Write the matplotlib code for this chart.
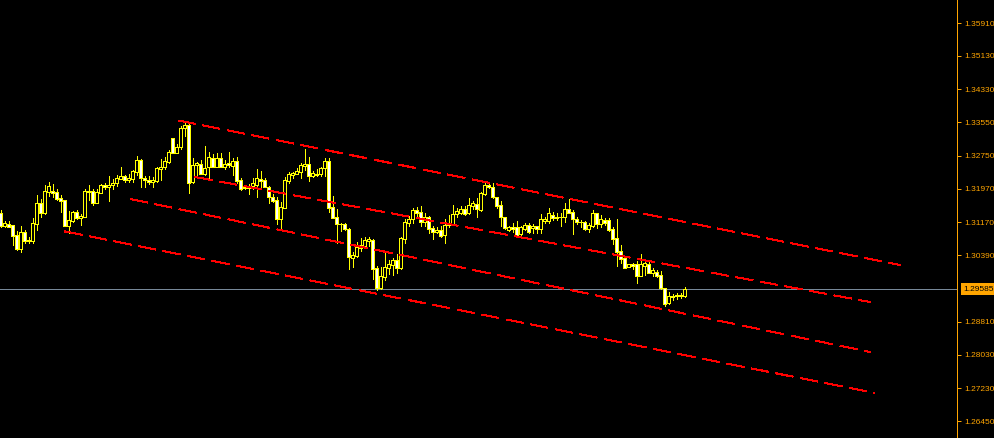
import matplotlib
matplotlib.use("Agg")
import matplotlib.pyplot as plt
import matplotlib.transforms as mtransforms
import numpy as np

# ---------------- data ----------------
opens = [
    1.31401, 1.31085, 1.31133, 1.31102, 1.30871, 1.30545, 1.30942, 1.30728, 1.30736, 1.31133,
    1.31632, 1.31401, 1.31900, 1.31917, 1.31893, 1.31751, 1.31703, 1.31085, 1.31211, 1.31418,
    1.31282, 1.31292, 1.31924, 1.31910, 1.31639, 1.31877, 1.32067, 1.32005, 1.32053, 1.32115,
    1.32202, 1.32266, 1.32178, 1.32209, 1.32376, 1.32654, 1.32219, 1.32178, 1.32138, 1.32155,
    1.32440, 1.32480, 1.32614, 1.33170, 1.32827, 1.32956, 1.33407, 1.33486, 1.32138, 1.32528,
    1.32551, 1.32328, 1.32480, 1.32694, 1.32480, 1.32694, 1.32496, 1.32575, 1.32519, 1.32630,
    1.32178, 1.31981, 1.31996, 1.32036, 1.32060, 1.32195, 1.32178, 1.32019, 1.31767, 1.31703,
    1.31251, 1.31520, 1.32162, 1.32305, 1.32321, 1.32376, 1.32519, 1.32559, 1.32281, 1.32314,
    1.32314, 1.32456, 1.32637, 1.31529, 1.31292, 1.31140, 1.31133, 1.31007, 1.30332, 1.30379,
    1.30569, 1.30617, 1.30736, 1.30752, 1.30094, 1.29618, 1.29880, 1.30080, 1.30158, 1.30277,
    1.30094, 1.30776, 1.31149, 1.31251, 1.31465, 1.31425, 1.31180, 1.31306, 1.31030, 1.30935,
    1.30990, 1.30871, 1.31102, 1.31125, 1.31363, 1.31387, 1.31496, 1.31401, 1.31568, 1.31608,
    1.31465, 1.31846, 1.32060, 1.32019, 1.31767, 1.31584, 1.31292, 1.30990, 1.31069, 1.31054,
    1.30895, 1.31007, 1.31109, 1.31030, 1.31085, 1.31007, 1.31211, 1.31204, 1.31346, 1.31275,
    1.31306, 1.31292, 1.31482, 1.31411, 1.31251, 1.31173, 1.31173, 1.31014, 1.31093, 1.31387,
    1.31133, 1.31228, 1.31228, 1.31014, 1.30793, 1.30491, 1.30332, 1.30103, 1.30182, 1.30175,
    1.29904, 1.30142, 1.30182, 1.29975, 1.29984, 1.29920, 1.29604, 1.29248, 1.29404, 1.29421,
    1.29428, 1.29421,
]
highs = [
    1.31465, 1.31204, 1.31204, 1.31109, 1.30966, 1.31085, 1.30990, 1.30824, 1.31275, 1.31822,
    1.31727, 1.32060, 1.32131, 1.32084, 1.31965, 1.31822, 1.31703, 1.31442, 1.31442, 1.31465,
    1.31370, 1.31965, 1.32060, 1.31965, 1.31972, 1.32091, 1.32115, 1.32266, 1.32202, 1.32297,
    1.32480, 1.32297, 1.32314, 1.32416, 1.32749, 1.32670, 1.32281, 1.32273, 1.32257, 1.32480,
    1.32670, 1.32733, 1.32892, 1.33170, 1.33027, 1.33462, 1.33526, 1.33526, 1.32694, 1.32599,
    1.32654, 1.32987, 1.32851, 1.32796, 1.32827, 1.32813, 1.32654, 1.32851, 1.32694, 1.32733,
    1.32219, 1.32060, 1.32077, 1.32219, 1.32440, 1.32392, 1.32233, 1.32036, 1.31846, 1.31767,
    1.31663, 1.32257, 1.32376, 1.32361, 1.32456, 1.32590, 1.32915, 1.32733, 1.32392, 1.32432,
    1.32496, 1.32694, 1.32694, 1.31798, 1.31489, 1.31164, 1.31164, 1.31045, 1.30467, 1.30705,
    1.30793, 1.30816, 1.30831, 1.30769, 1.30134, 1.30118, 1.30491, 1.30277, 1.30324, 1.30420,
    1.30831, 1.31244, 1.31323, 1.31506, 1.31529, 1.31561, 1.31387, 1.31323, 1.31085, 1.31069,
    1.31085, 1.31251, 1.31346, 1.31584, 1.31520, 1.31561, 1.31561, 1.31743, 1.31686, 1.31743,
    1.31886, 1.32115, 1.32100, 1.32115, 1.31782, 1.31686, 1.31292, 1.31085, 1.31149, 1.31204,
    1.31085, 1.31164, 1.31149, 1.31133, 1.31085, 1.31370, 1.31306, 1.31520, 1.31425, 1.31387,
    1.31401, 1.31624, 1.31727, 1.31465, 1.31292, 1.31228, 1.31204, 1.31149, 1.31465, 1.31387,
    1.31346, 1.31268, 1.31268, 1.31069, 1.31251, 1.30633, 1.30356, 1.30175, 1.30213, 1.30253,
    1.30412, 1.30253, 1.30277, 1.30094, 1.30032, 1.30016, 1.29604, 1.29523, 1.29461, 1.29485,
    1.29485, 1.29642,
]
lows = [
    1.31061, 1.31061, 1.31061, 1.30641, 1.30515, 1.30474, 1.30681, 1.30681, 1.30681, 1.30990,
    1.31306, 1.31370, 1.31805, 1.31782, 1.31703, 1.31418, 1.31085, 1.30926, 1.31180, 1.31259,
    1.31117, 1.31292, 1.31703, 1.31584, 1.31639, 1.31862, 1.31972, 1.31686, 1.31958, 1.32036,
    1.32202, 1.32131, 1.32138, 1.32138, 1.32297, 1.32019, 1.32019, 1.32084, 1.32019, 1.32138,
    1.32178, 1.32440, 1.32575, 1.32827, 1.32827, 1.32908, 1.33224, 1.31877, 1.32115, 1.32297,
    1.32314, 1.32297, 1.32233, 1.32480, 1.32480, 1.32480, 1.32440, 1.32480, 1.32297, 1.32100,
    1.31941, 1.31958, 1.31846, 1.31958, 1.31782, 1.32019, 1.32005, 1.31639, 1.31663, 1.31140,
    1.30990, 1.31506, 1.32115, 1.32233, 1.32314, 1.32233, 1.32416, 1.32162, 1.32257, 1.32281,
    1.32273, 1.32281, 1.31425, 1.31268, 1.30674, 1.30974, 1.30990, 1.30070, 1.30103, 1.30341,
    1.30498, 1.30593, 1.30617, 1.29818, 1.29564, 1.29580, 1.29801, 1.29944, 1.29920, 1.29960,
    1.30056, 1.30674, 1.31085, 1.31164, 1.31306, 1.31093, 1.31085, 1.30911, 1.30784, 1.30911,
    1.30831, 1.30688, 1.31069, 1.31102, 1.31306, 1.31370, 1.31346, 1.31363, 1.31482, 1.31306,
    1.31449, 1.31822, 1.31981, 1.31743, 1.31506, 1.31085, 1.31014, 1.30966, 1.30950, 1.30847,
    1.30831, 1.30990, 1.30926, 1.30926, 1.30911, 1.30911, 1.31149, 1.31149, 1.31228, 1.31228,
    1.31093, 1.31188, 1.31387, 1.30887, 1.31125, 1.31069, 1.30990, 1.30935, 1.31069, 1.31045,
    1.31054, 1.31109, 1.30966, 1.30650, 1.30134, 1.30198, 1.30094, 1.30103, 1.30063, 1.29737,
    1.29904, 1.29920, 1.29960, 1.29904, 1.29873, 1.29588, 1.29183, 1.29231, 1.29326, 1.29343,
    1.29366, 1.29404,
]
closes = [
    1.31085, 1.31149, 1.31068, 1.30847, 1.30538, 1.30942, 1.30736, 1.30759, 1.31156, 1.31632,
    1.31401, 1.31917, 1.32036, 1.31869, 1.31734, 1.31686, 1.31085, 1.31228, 1.31418, 1.31275,
    1.31330, 1.31910, 1.31893, 1.31639, 1.31886, 1.32067, 1.32005, 1.32067, 1.32108, 1.32233,
    1.32266, 1.32171, 1.32226, 1.32385, 1.32654, 1.32219, 1.32178, 1.32138, 1.32178, 1.32456,
    1.32480, 1.32623, 1.32837, 1.32827, 1.32956, 1.33407, 1.33486, 1.32115, 1.32535, 1.32575,
    1.32328, 1.32456, 1.32718, 1.32480, 1.32694, 1.32496, 1.32559, 1.32535, 1.32637, 1.32162,
    1.31965, 1.32019, 1.32036, 1.32100, 1.32219, 1.32155, 1.32019, 1.31767, 1.31686, 1.31244,
    1.31544, 1.32178, 1.32321, 1.32338, 1.32392, 1.32535, 1.32559, 1.32281, 1.32338, 1.32297,
    1.32456, 1.32630, 1.31506, 1.31282, 1.31125, 1.31125, 1.31007, 1.30341, 1.30403, 1.30593,
    1.30633, 1.30752, 1.30784, 1.30070, 1.29618, 1.29896, 1.30103, 1.30182, 1.30277, 1.30080,
    1.30793, 1.31180, 1.31244, 1.31465, 1.31401, 1.31173, 1.31292, 1.31021, 1.30950, 1.30990,
    1.30855, 1.31117, 1.31164, 1.31370, 1.31442, 1.31482, 1.31370, 1.31584, 1.31624, 1.31482,
    1.31862, 1.32060, 1.32005, 1.31782, 1.31561, 1.31292, 1.31030, 1.31054, 1.31007, 1.30871,
    1.31054, 1.31109, 1.30935, 1.31085, 1.31007, 1.31244, 1.31251, 1.31387, 1.31268, 1.31306,
    1.31292, 1.31482, 1.31401, 1.31244, 1.31173, 1.31188, 1.31014, 1.31109, 1.31387, 1.31125,
    1.31251, 1.31164, 1.30990, 1.30784, 1.30474, 1.30301, 1.30094, 1.30175, 1.30142, 1.29904,
    1.30182, 1.30198, 1.29975, 1.30039, 1.29896, 1.29604, 1.29224, 1.29421, 1.29428, 1.29445,
    1.29445, 1.29585,
]

# trend channel lines: (start bar, start price, end bar, end price)
channel_x0 = [44.4, 48.6, 32.4, 16.1]
channel_p0 = [1.33593, 1.32250, 1.31727, 1.30955]
channel_x1 = [224.9, 217.4, 217.4, 218.6]
channel_p1 = [1.30158, 1.29278, 1.28090, 1.27115]

current_price = 1.29585
price_ticks = [1.35910, 1.35130, 1.34330, 1.33550, 1.32750, 1.31970, 1.31170,
               1.30390, 1.28810, 1.28030, 1.27230, 1.26450]

# ---------------- styling ----------------
BG = "#000000"
CANDLE = "#ffff00"
AXIS_COL = "#ffa500"
PX = 0.72  # one pixel in points at dpi 100
FONT = ["Liberation Sans", "DejaVu Sans"]

fig = plt.figure(figsize=(9.94, 4.38), dpi=100, facecolor=BG)
ax = fig.add_axes([0, 0, 957 / 994, 1])
ax.set_facecolor(BG)

o = np.array(opens); h = np.array(highs); l = np.array(lows); c = np.array(closes)
x = np.arange(len(o))
up = c >= o

ax.vlines(x, l, h, color=CANDLE, lw=PX, antialiased=False, zorder=2)
ax.bar(x, np.abs(c - o), width=0.62, bottom=np.minimum(o, c),
       color=np.where(up, "black", "white"), edgecolor=CANDLE,
       linewidth=PX, antialiased=False, zorder=3)

for x0, p0, x1, p1 in zip(channel_x0, channel_p0, channel_x1, channel_p1):
    ax.plot([x0, x1], [p0, p1], color="#ff0000", lw=PX, dashes=(17, 7),
            antialiased=False, zorder=4)

ax.axhline(current_price, color="#778899", lw=PX, antialiased=False, zorder=1)

ax.set_xlim(-0.125, 239.125)
ax.set_ylim(1.26046, 1.36457)

ax.set_xticks([])
ax.yaxis.tick_right()
ax.set_yticks(price_ticks)
ax.set_yticklabels([f"{v:.5f}" for v in price_ticks])
ax.tick_params(axis="y", colors=AXIS_COL, length=3, width=PX, pad=2.5,
               labelsize=6.0, labelcolor=AXIS_COL)
for lab in ax.get_yticklabels():
    lab.set_fontfamily(FONT)
for s in ["left", "top", "bottom"]:
    ax.spines[s].set_visible(False)
ax.spines["right"].set_color(AXIS_COL)
ax.spines["right"].set_linewidth(PX)

trans = mtransforms.blended_transform_factory(ax.transAxes, ax.transData)
ax.text(1.0 + 6 / 957, current_price, f"{current_price:.5f}", transform=trans,
        color="black", fontsize=6.0, family=FONT, va="center", ha="left", zorder=10,
        bbox=dict(facecolor=AXIS_COL, edgecolor="none", boxstyle="square,pad=0.3"),
        clip_on=False)

fig.savefig("out.png", dpi=100, facecolor=BG)
